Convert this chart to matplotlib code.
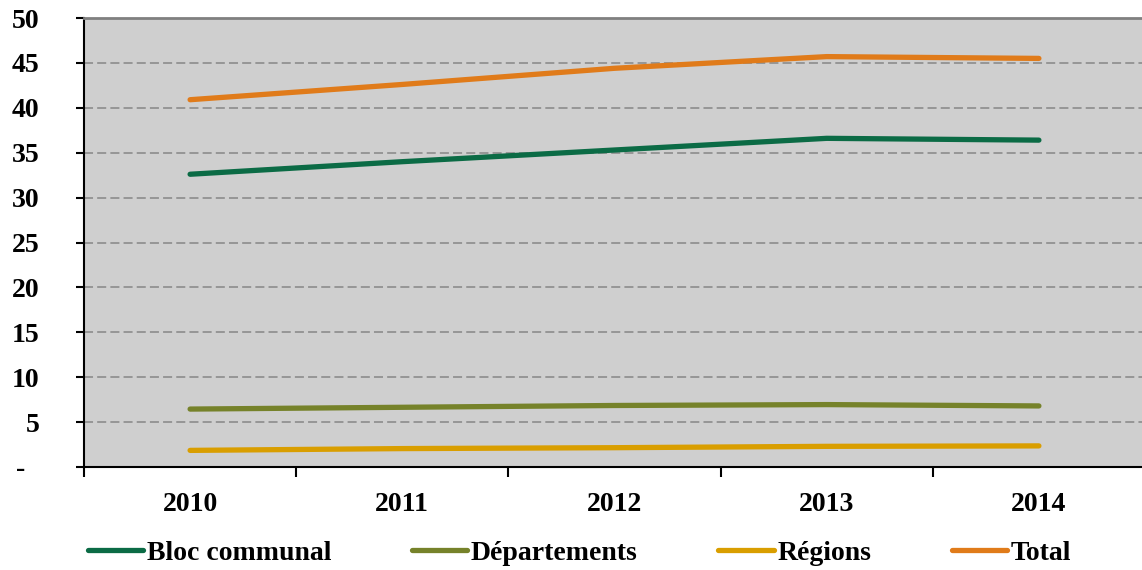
import matplotlib
matplotlib.use("Agg")
import matplotlib.pyplot as plt
import numpy as np

years = ["2010", "2011", "2012", "2013", "2014"]
bloc_communal = [32.6, 34.0, 35.3, 36.6, 36.4]
departements = [6.45, 6.65, 6.85, 6.95, 6.8]
regions = [1.85, 2.05, 2.15, 2.3, 2.35]
total = [40.9, 42.6, 44.4, 45.7, 45.5]

y_ticks = [0, 5, 10, 15, 20, 25, 30, 35, 40, 45, 50]
y_labels = ["-  ", "5", "10", "15", "20", "25", "30", "35", "40", "45", "50"]

series = [
    ("Bloc communal", bloc_communal, "#0b6b45"),
    ("Départements", departements, "#76822a"),
    ("Régions", regions, "#d99e00"),
    ("Total", total, "#e07b1a"),
]

plt.rcParams['font.family'] = ['Liberation Serif', 'DejaVu Serif']
plt.rcParams['font.weight'] = 'bold'

fig = plt.figure(figsize=(11.42, 5.70), dpi=100)
ax = fig.add_axes([84/1142, 103/570, 1061/1142, 449/570])
ax.set_facecolor("#cfcfcf")

x = np.arange(len(years))
for name, vals, col in series:
    ax.plot(x, vals, color=col, lw=3.8, solid_capstyle='round', label=name, zorder=3)

ax.set_xlim(-0.5, len(years) - 0.5)
ax.set_ylim(0, 50)
ax.set_yticks(y_ticks)
ax.set_yticklabels(y_labels, fontsize=20, fontweight='bold')
ax.set_xticks(x)
ax.set_xticklabels(years, fontsize=20, fontweight='bold')
ax.set_xticks(np.arange(-0.5, len(years)), minor=True)
ax.tick_params(axis='x', which='major', length=0, pad=18)
ax.tick_params(axis='x', which='minor', length=7, width=1.5, color='black', direction='out')
ax.tick_params(axis='y', which='major', length=6, width=1.5, pad=26, direction='out')

ax.yaxis.grid(True, color='#919191', lw=1.3, linestyle=(0, (5, 2.3)), zorder=1)
ax.set_axisbelow(True)

ax.spines['right'].set_visible(False)
ax.spines['top'].set_color('#808080')
ax.spines['top'].set_linewidth(2)
ax.spines['left'].set_linewidth(1.5)
ax.spines['bottom'].set_linewidth(1.5)

leg = fig.legend(loc='center', bbox_to_anchor=(0.5075, 1 - 553/570), ncol=4, frameon=False,
                 prop={'size': 20, 'weight': 'bold'}, handlelength=2.0, handletextpad=0.13,
                 columnspacing=2.9, borderpad=0, borderaxespad=0)

fig.savefig("out.png", dpi=100)
